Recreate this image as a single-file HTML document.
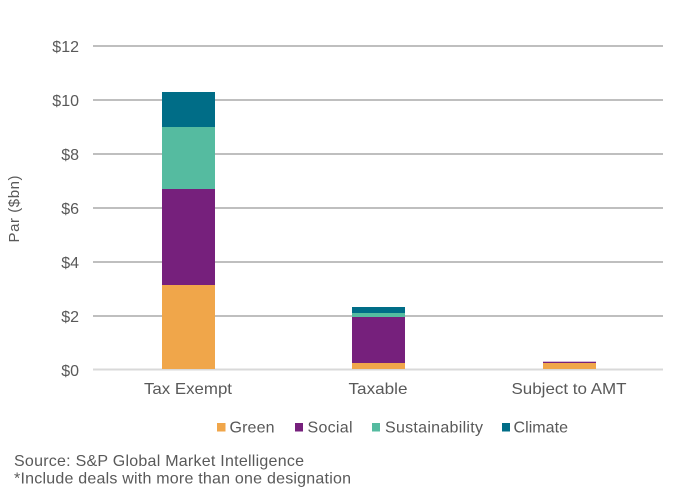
<!DOCTYPE html>
<html><head><meta charset="utf-8"><style>
html,body{margin:0;padding:0;background:#fff;}
svg{display:block;}
text{font-family:"Liberation Sans",Arial,sans-serif;fill:#595959;}
</style></head><body>
<svg width="676" height="491" viewBox="0 0 676 491" xmlns="http://www.w3.org/2000/svg">
<g stroke="#BFBFBF" stroke-width="2">
<line x1="93" y1="46" x2="663" y2="46"/>
<line x1="93" y1="100" x2="663" y2="100"/>
<line x1="93" y1="154" x2="663" y2="154"/>
<line x1="93" y1="208" x2="663" y2="208"/>
<line x1="93" y1="262" x2="663" y2="262"/>
<line x1="93" y1="316" x2="663" y2="316"/>
</g>
<line x1="93" y1="369.5" x2="663" y2="369.5" stroke="#D9D9D9" stroke-width="2"/>
<g font-size="16" text-anchor="end">
<text x="79" y="52">$12</text>
<text x="79" y="106">$10</text>
<text x="79" y="160">$8</text>
<text x="79" y="214">$6</text>
<text x="79" y="268">$4</text>
<text x="79" y="322">$2</text>
<text x="79" y="376">$0</text>
</g>
<text transform="translate(19,209) rotate(-90)" font-size="15" text-anchor="middle" textLength="67" lengthAdjust="spacing">Par ($bn)</text>
<!-- bar 1 -->
<rect x="162" y="285" width="53" height="84" fill="#F0A64A"/>
<rect x="162" y="189" width="53" height="96" fill="#76207C"/>
<rect x="162" y="127" width="53" height="62" fill="#55BBA0"/>
<rect x="162" y="92" width="53" height="35" fill="#006D87"/>
<!-- bar 2 -->
<rect x="352" y="363" width="53" height="6" fill="#F0A64A"/>
<rect x="352" y="317" width="53" height="46" fill="#76207C"/>
<rect x="352" y="313" width="53" height="4" fill="#55BBA0"/>
<rect x="352" y="307" width="53" height="6" fill="#006D87"/>
<!-- bar 3 -->
<rect x="543" y="363" width="53" height="6" fill="#F0A64A"/>
<rect x="543" y="361.7" width="53" height="1.3" fill="#76207C"/>
<g font-size="16" text-anchor="middle">
<text x="188" y="394" textLength="88" lengthAdjust="spacingAndGlyphs">Tax Exempt</text>
<text x="378" y="394" textLength="59" lengthAdjust="spacingAndGlyphs">Taxable</text>
<text x="569" y="394" textLength="115" lengthAdjust="spacingAndGlyphs">Subject to AMT</text>
</g>
<g font-size="16">
<rect x="217" y="423" width="8.5" height="8.5" fill="#F0A64A"/>
<text x="229.5" y="432.5" textLength="45" lengthAdjust="spacing">Green</text>
<rect x="295" y="423" width="8" height="8.5" fill="#76207C"/>
<text x="307.5" y="432.5" textLength="45" lengthAdjust="spacing">Social</text>
<rect x="372" y="423" width="8" height="8.5" fill="#55BBA0"/>
<text x="385" y="432.5" textLength="98" lengthAdjust="spacing">Sustainability</text>
<rect x="502" y="423" width="8" height="8.5" fill="#006D87"/>
<text x="513.5" y="432.5" textLength="54.5" lengthAdjust="spacing">Climate</text>
</g>
<g font-size="16">
<text x="14" y="466" textLength="290" lengthAdjust="spacing">Source: S&amp;P Global Market Intelligence</text>
<text x="14" y="483.5" textLength="337" lengthAdjust="spacing">*Include deals with more than one designation</text>
</g>
</svg>
</body></html>
